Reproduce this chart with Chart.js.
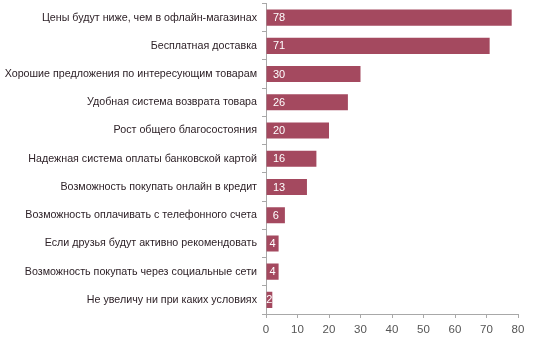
<!DOCTYPE html>
<html>
<head>
<meta charset="utf-8">
<script src="https://cdn.jsdelivr.net/npm/chart.js@4/dist/chart.umd.min.js"></script>
<style>
  html, body { margin: 0; padding: 0; background: #fff; }
  #wrap { width: 533px; height: 338px; position: relative; }
</style>
</head>
<body>
<div id="wrap"><canvas id="c"></canvas></div>
<script>
// Reasons that would make shoppers buy online more often
const categories = [
  'Цены будут ниже, чем в офлайн-магазинах',
  'Бесплатная доставка',
  'Хорошие предложения по интересующим товарам',
  'Удобная система возврата товара',
  'Рост общего благосостояния',
  'Надежная система оплаты банковской картой',
  'Возможность покупать онлайн в кредит',
  'Возможность оплачивать с телефонного счета',
  'Если друзья будут активно рекомендовать',
  'Возможность покупать через социальные сети',
  'Не увеличу ни при каких условиях'
];
const shares = [78, 71, 30, 26, 20, 16, 13, 6, 4, 4, 2];
const xTicks = [0, 10, 20, 30, 40, 50, 60, 70, 80];

const FONT = '"Liberation Sans", Arial, sans-serif';
const BAR = '#a4495f';
const AXIS = '#a8a8a8';

// White value labels: near the start of long bars, centred in short ones
const valueLabels = {
  id: 'valueLabels',
  afterDatasetsDraw(chart) {
    const ctx = chart.ctx;
    const meta = chart.getDatasetMeta(0);
    ctx.save();
    ctx.font = '11px ' + FONT;
    ctx.fillStyle = '#ffffff';
    ctx.textAlign = 'left';
    ctx.textBaseline = 'middle';
    meta.data.forEach((bar, i) => {
      const txt = String(shares[i]);
      const w = ctx.measureText(txt).width;
      const mid = (bar.base + bar.x) / 2;
      const x = Math.min(bar.base + 6.5, mid - w / 2);
      ctx.fillText(txt, x, bar.y + 0.5);
    });
    ctx.restore();
  }
};

new Chart(document.getElementById('c'), {
  type: 'bar',
  data: {
    labels: categories,
    datasets: [{
      data: shares,
      backgroundColor: BAR,
      borderWidth: 0,
      barPercentage: 0.57,
      categoryPercentage: 1
    }]
  },
  options: {
    indexAxis: 'y',
    responsive: true,
    maintainAspectRatio: false,
    animation: false,
    layout: { padding: { top: 3.5, right: 15, bottom: 0, left: 0 } },
    plugins: {
      legend: { display: false },
      tooltip: { enabled: false }
    },
    scales: {
      x: {
        min: 0,
        max: 80,
        afterBuildTicks(scale) {
          scale.ticks = xTicks.map(v => ({ value: v }));
        },
        afterFit(scale) {
          scale.height = 24;
          scale.paddingLeft = 0;
          scale.paddingRight = 0;
        },
        grid: {
          display: true,
          drawOnChartArea: false,
          drawTicks: true,
          tickLength: 4,
          color: AXIS
        },
        border: { display: true, color: AXIS, width: 1 },
        ticks: {
          color: '#555555',
          font: { family: FONT, size: 11.5 },
          padding: 5
        }
      },
      y: {
        afterFit(scale) {
          scale.width = 266;
          scale.paddingTop = 0;
          scale.paddingBottom = 0;
        },
        grid: {
          display: true,
          offset: true,
          drawOnChartArea: false,
          drawTicks: true,
          tickLength: 4,
          color: AXIS
        },
        border: { display: true, color: AXIS, width: 1 },
        ticks: {
          color: '#2e2228',
          font: { family: FONT, size: 10.7 },
          padding: 5,
          autoSkip: false
        }
      }
    }
  },
  plugins: [valueLabels]
});
</script>
</body>
</html>
